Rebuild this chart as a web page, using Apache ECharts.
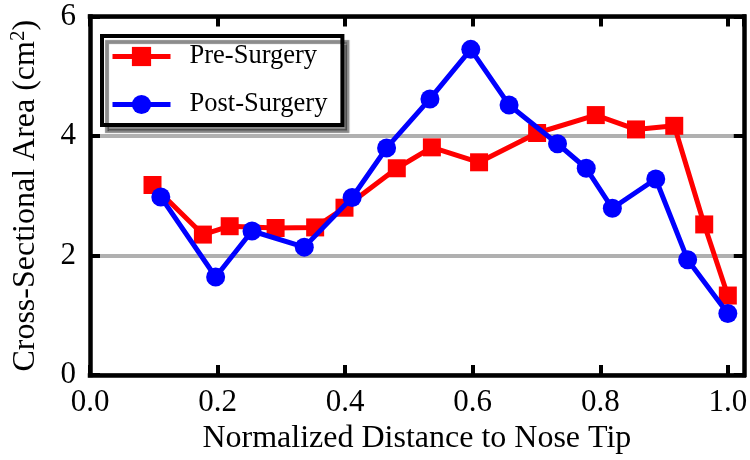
<!DOCTYPE html>
<html>
<head>
<meta charset="utf-8">
<script src="https://cdn.jsdelivr.net/npm/echarts@6/dist/echarts.min.js"></script>
<style>
html,body{margin:0;padding:0;background:#fff;}
#chart{width:750px;height:460px;}
</style>
</head>
<body>
<div id="chart"></div>
<script>
var seriesNames = ['Pre-Surgery', 'Post-Surgery'];
var preX = [0.098, 0.177, 0.219, 0.291, 0.353, 0.399, 0.481, 0.536, 0.610, 0.701, 0.793, 0.856, 0.916, 0.963, 1.0];
var preY = [3.18, 2.35, 2.49, 2.46, 2.47, 2.80, 3.46, 3.81, 3.56, 4.05, 4.35, 4.11, 4.17, 2.52, 1.33];
var postX = [0.111, 0.197, 0.254, 0.336, 0.411, 0.465, 0.533, 0.597, 0.657, 0.733, 0.778, 0.819, 0.887, 0.937, 1.0];
var postY = [2.98, 1.64, 2.41, 2.14, 2.97, 3.80, 4.62, 5.45, 4.52, 3.87, 3.46, 2.79, 3.28, 1.93, 1.03];
var xTitle = 'Normalized Distance to Nose Tip';
var yTitleMain = 'Cross-Sectional Area (cm';
var yTitleSup = '2';
var yTitleEnd = ')';

function zip(xs, ys) { return xs.map(function (x, i) { return [x, ys[i]]; }); }

var FONT = 'Liberation Serif';
var chart = echarts.init(document.getElementById('chart'), null, {renderer: 'canvas'});

function xLabelFmt(v) {
  var k = Math.round(v / 0.2);
  if (Math.abs(v - k * 0.2) > 1e-6) return '';
  return (k * 0.2).toFixed(1);
}

var frameLine = {show: true, onZero: false, lineStyle: {color: '#000', width: 4.5, cap: 'square'}};
var frameTick = {show: true, inside: true, length: 10, lineStyle: {color: '#000', width: 4}};

var option = {
  animation: false,
  backgroundColor: '#fff',
  grid: {left: 82, right: 4, top: 16.5, bottom: 84.7, containLabel: false},
  legend: {
    orient: 'vertical',
    left: 102, top: 36,
    data: seriesNames,
    itemWidth: 58, itemHeight: 24,
    itemGap: 21,
    padding: [7, 15, 7, 8],
    backgroundColor: '#fff',
    borderColor: '#000', borderWidth: 4,
    shadowColor: 'rgba(0,0,0,0.45)', shadowBlur: 1, shadowOffsetX: 5, shadowOffsetY: 6,
    lineStyle: {width: 5},
    textStyle: {fontFamily: FONT, fontSize: 26.5, color: '#000', padding: [0, 0, 0, 14]}
  },
  xAxis: [{
    type: 'value', position: 'bottom', min: 0, max: 1.025, interval: 0.2,
    axisLine: frameLine, axisTick: frameTick,
    axisLabel: {fontFamily: FONT, fontSize: 31, color: '#000', margin: 12, formatter: xLabelFmt, showMaxLabel: false},
    splitLine: {show: false},
    name: xTitle, nameLocation: 'middle', nameGap: 48,
    nameTextStyle: {fontFamily: FONT, fontSize: 32, color: '#000'}
  }, {
    type: 'value', position: 'top', min: 0, max: 1.025, interval: 0.2,
    axisLine: frameLine, axisTick: frameTick,
    axisLabel: {show: false}, splitLine: {show: false}
  }],
  yAxis: [{
    type: 'value', position: 'left', min: 0, max: 6, interval: 2,
    axisLine: frameLine, axisTick: frameTick,
    axisLabel: {fontFamily: FONT, fontSize: 31, color: '#000', margin: 14},
    splitLine: {show: true, lineStyle: {color: '#b0b0b0', width: 4}},
    name: '{m|' + yTitleMain + '}{s|' + yTitleSup + '}{m|' + yTitleEnd + '}',
    nameLocation: 'middle', nameGap: 46, nameRotate: 90,
    nameTextStyle: {
      fontFamily: FONT, fontSize: 32, color: '#000',
      rich: {
        m: {fontFamily: FONT, fontSize: 32, color: '#000', lineHeight: 36},
        s: {fontFamily: FONT, fontSize: 21, color: '#000', lineHeight: 36, verticalAlign: 'top', padding: [0, 0, 12, 0]}
      }
    }
  }, {
    type: 'value', position: 'right', min: 0, max: 6, interval: 2,
    axisLine: frameLine, axisTick: frameTick,
    axisLabel: {show: false}, splitLine: {show: false}
  }],
  series: [{
    name: seriesNames[0], type: 'line', xAxisIndex: 0, yAxisIndex: 0,
    data: zip(preX, preY),
    symbol: 'rect', symbolSize: 18,
    lineStyle: {color: '#ff0000', width: 5},
    itemStyle: {color: '#ff0000'},
    z: 3
  }, {
    name: seriesNames[1], type: 'line', xAxisIndex: 0, yAxisIndex: 0,
    data: zip(postX, postY),
    symbol: 'circle', symbolSize: 19,
    lineStyle: {color: '#0000ff', width: 5},
    itemStyle: {color: '#0000ff'},
    z: 4
  }]
};
chart.setOption(option);
</script>
</body>
</html>
